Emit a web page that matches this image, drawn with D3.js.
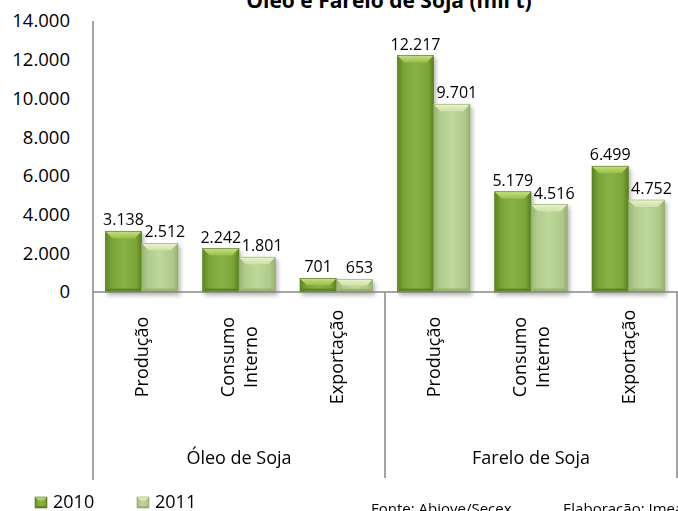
<!DOCTYPE html>
<html>
<head>
<meta charset="utf-8">
<script src="https://cdn.jsdelivr.net/npm/d3@7"></script>
<style>
  body { margin: 0; background: #fff; }
  svg text { font-family: "Open Sans", "DejaVu Sans", sans-serif; fill: #000; }
</style>
</head>
<body>
<svg id="chart" width="678" height="511"></svg>
<script>
// data
const groups = ["Óleo de Soja", "Farelo de Soja"];
const categories = ["Produção", "Consumo Interno", "Exportação"];
const series = ["2010", "2011"];
const values2010 = [3138, 2242, 701, 12217, 5179, 6499];
const values2011 = [2512, 1801, 653, 9701, 4516, 4752];
const yTicks = [0, 2000, 4000, 6000, 8000, 10000, 12000, 14000];

const title = "Óleo e Farelo de Soja (mil t)";
const source = "Fonte: Abiove/Secex";
const credit = "Elaboração: Imea";

const svg = d3.select("#chart");
const W = 678, H = 511;
const m = { left: 93, right: 1, top: 21, zero: 292 };

const ptBR = d3.formatLocale({ decimal: ",", thousands: ".", grouping: [3], currency: ["R$", ""] });
const fmt = ptBR.format(",d");

// build rows from the arrays
let rows = [];
groups.forEach((g, gi) => {
    categories.forEach((c, ci) => {
        const i = gi * categories.length + ci;
        rows.push({ group: g, cat: c, key: g + "|" + c, v: [values2010[i], values2011[i]] });
    });
});

const y = d3.scaleLinear().domain([0, 14000]).range([m.zero, m.top]);
const xGroup = d3.scaleBand().domain(groups).range([m.left, W - m.right]);
const xCat = d3.scaleBand().domain(categories).range([0, xGroup.bandwidth()]);
const xSer = d3.scaleBand().domain(series).range([0, xCat.bandwidth()])
    .paddingInner(0).paddingOuter(0.34);

// gradients
const defs = svg.append("defs");
const palettes = {
    "2010": { body: ["#5b8722", "#78a438", "#88b246", "#7aa436", "#577f1f"], top: ["#c6e07e", "#97bf4c"], bottom: "#54781d" },
    "2011": { body: ["#98b472", "#b1cc8c", "#bed79b", "#b0ca8a", "#95b06f"], top: ["#eaf3cc", "#cde0a6"], bottom: "#8ea86a" }
};
series.forEach(s => {
    const p = palettes[s];
    const lg = defs.append("linearGradient").attr("id", "body" + s)
        .attr("x1", 0).attr("x2", 1).attr("y1", 0).attr("y2", 0);
    [0, 0.18, 0.5, 0.85, 1].forEach((o, k) => lg.append("stop").attr("offset", o).attr("stop-color", p.body[k]));
    const tg = defs.append("linearGradient").attr("id", "top" + s)
        .attr("x1", 0).attr("x2", 0).attr("y1", 0).attr("y2", 1);
    tg.append("stop").attr("offset", 0).attr("stop-color", p.top[0]);
    tg.append("stop").attr("offset", 1).attr("stop-color", p.top[1]);
});
const sh = defs.append("filter").attr("id", "shadow")
    .attr("x", "-20%").attr("y", "-20%").attr("width", "150%").attr("height", "150%");
sh.append("feDropShadow").attr("dx", 2).attr("dy", 3).attr("stdDeviation", 2)
    .attr("flood-color", "#000").attr("flood-opacity", 0.3);

// draws one beveled bar
function bevelBar(g, x, yTop, w, h, s, b) {
    const p = palettes[s];
    b = Math.min(b, h / 2, w / 2);
    const bg = g.append("g");
    bg.append("rect").attr("x", x).attr("y", yTop).attr("width", w).attr("height", h)
        .attr("fill", "url(#body" + s + ")");
    bg.append("polygon")
        .attr("points", [[x, yTop], [x + w, yTop], [x + w - b, yTop + b], [x + b, yTop + b]].join(" "))
        .attr("fill", "url(#top" + s + ")");
    bg.append("polygon")
        .attr("points", [[x, yTop + h], [x + w, yTop + h], [x + w - b * 0.5, yTop + h - b * 0.5], [x + b * 0.5, yTop + h - b * 0.5]].join(" "))
        .attr("fill", p.bottom).attr("opacity", 0.7);
    bg.append("rect").attr("x", x).attr("y", yTop).attr("width", w).attr("height", h)
        .attr("fill", "none").attr("stroke", p.bottom).attr("stroke-width", 0.6);
    return bg;
}

// title
svg.append("text")
    .attr("x", 389).attr("y", 8)
    .attr("text-anchor", "middle")
    .attr("font-size", 21).attr("font-weight", "bold")
    .text(title);

// y axis labels
svg.append("g").selectAll("text")
    .data(yTicks).enter().append("text")
    .attr("x", 70).attr("y", d => y(d)).attr("dy", "0.35em")
    .attr("text-anchor", "end").attr("font-size", 18.5)
    .text(d => fmt(d));

// bars
const barLayer = svg.append("g").attr("filter", "url(#shadow)");
rows.forEach(r => {
    const cx = xGroup(r.group) + xCat(r.cat);
    series.forEach((s, si) => {
        const v = r.v[si];
        bevelBar(barLayer, cx + xSer(s), y(v), xSer.bandwidth(), y(0) - y(v), s, 7);
    });
});

// value labels
const lbl = svg.append("g");
rows.forEach(r => {
    const cx = xGroup(r.group) + xCat(r.cat);
    series.forEach((s, si) => {
        const v = r.v[si];
        lbl.append("text")
            .attr("x", cx + xSer(s) + xSer.bandwidth() / 2 + (si === 1 ? 5 : 0))
            .attr("y", y(v) - 6)
            .attr("text-anchor", "middle").attr("font-size", 16)
            .text(fmt(v));
    });
});

// axis lines
const axisColor = "#878787";
const axes = svg.append("g").attr("stroke", axisColor).attr("stroke-width", 1.5);
axes.append("line").attr("x1", m.left).attr("x2", m.left).attr("y1", m.top).attr("y2", 480);
axes.append("line").attr("x1", m.left).attr("x2", W).attr("y1", m.zero).attr("y2", m.zero);
groups.forEach(g => {
    const gx = xGroup(g) + xGroup.bandwidth();
    axes.append("line").attr("x1", gx).attr("x2", gx).attr("y1", m.zero).attr("y2", 478);
});

// category labels, rotated
const capH = 13, lineH = 23;
rows.forEach(r => {
    const cx = xGroup(r.group) + xCat(r.cat) + xCat.bandwidth() / 2;
    const lines = r.cat.split(" ");
    const first = capH / 2 - (lines.length - 1) * lineH / 2;
    const t = svg.append("text")
        .attr("transform", `translate(${cx},357) rotate(-90)`)
        .attr("text-anchor", "middle").attr("font-size", 18);
    lines.forEach((ln, k) => {
        t.append("tspan").attr("x", 0).attr("y", first + k * lineH).text(ln);
    });
});

// group labels
svg.append("g").selectAll("text")
    .data(groups).enter().append("text")
    .attr("x", d => xGroup(d) + xGroup.bandwidth() / 2)
    .attr("y", 464)
    .attr("text-anchor", "middle").attr("font-size", 18)
    .text(d => d);

// legend
const legX = [35, 137];
series.forEach((s, i) => {
    const lg = svg.append("g");
    bevelBar(lg, legX[i], 497, 12, 11, s, 4);
    lg.append("text").attr("x", legX[i] + 18).attr("y", 508)
        .attr("font-size", 18).text(s);
});

// source
svg.append("text").attr("x", 371).attr("y", 514).attr("font-size", 15).text(source);
svg.append("text").attr("x", 563).attr("y", 514).attr("font-size", 15).text(credit);
</script>
</body>
</html>
